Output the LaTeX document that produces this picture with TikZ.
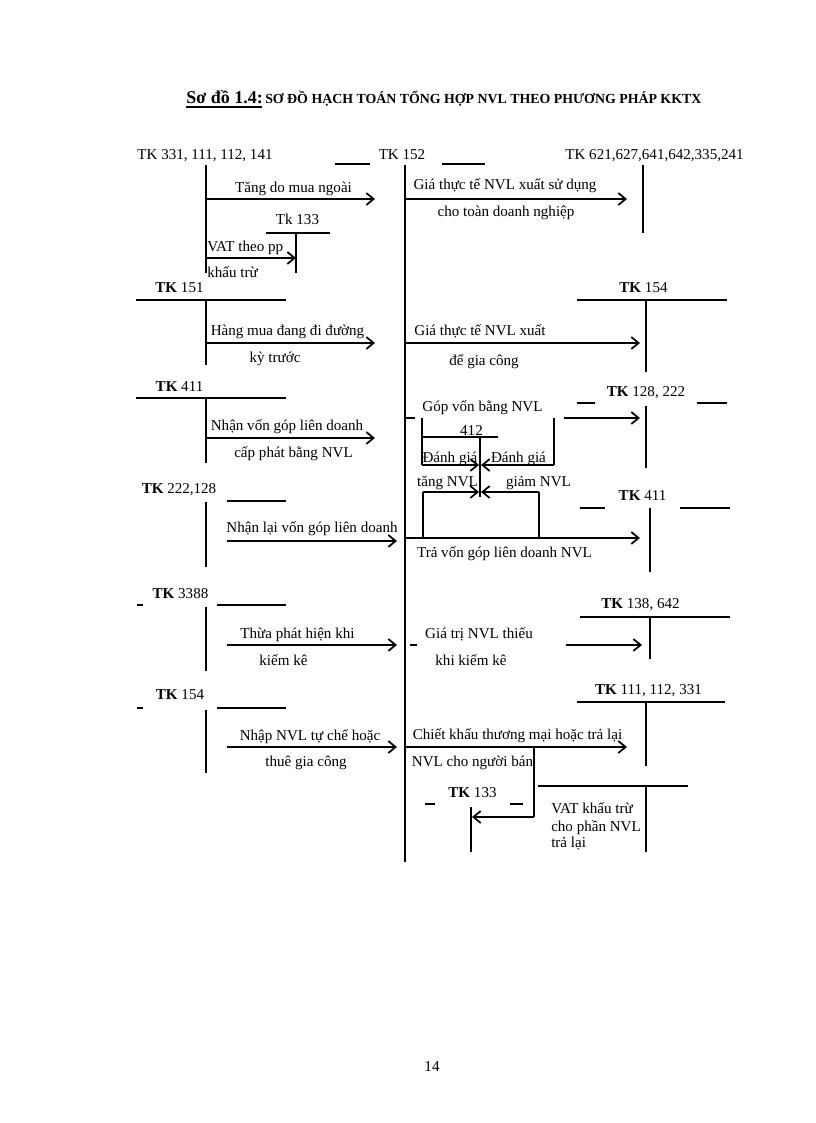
\documentclass[tikz,border=0pt]{standalone}
\usepackage{fontspec}
\setmainfont{Liberation Serif}
\usetikzlibrary{arrows.meta}
\begin{document}
\begin{tikzpicture}[x=0.75pt,y=-0.75pt,
  txt/.style={anchor=base,inner sep=0pt,font=\fontsize{11.3}{13.5}\selectfont},
  ltxt/.style={txt,anchor=base west},
  hl/.style={line width=0.8pt},
  vl/.style={line width=1.4pt},
  arr/.style={line width=1.1pt,-{Straight Barb[length=5.5pt,width=9pt,line width=1.3pt]}},
]
\useasboundingbox (0,0) rectangle (816,1123);
\fill[white] (0,0) rectangle (816,1123);

% title
\node[anchor=base west,inner sep=0pt,font=\fontsize{13.5}{16}\selectfont\bfseries] (t1) at (186,104) {Sơ đồ 1.4:};
\draw[line width=1.1pt] (186,107) -- (262,107);
\node[anchor=base west,inner sep=0pt,font=\fontsize{10.4}{12}\selectfont\bfseries] (t2) at (265,104) {SƠ ĐỒ HẠCH TOÁN TỔNG HỢP NVL THEO PHƯƠNG PHÁP KKTX};

% account headers
\node[txt] (h331) at (205,160) {TK 331, 111, 112, 141};
\node[txt] (h152) at (402,160) {TK 152};
\node[txt] (h621) at (654.5,160) {TK 621,627,641,642,335,241};
\draw[hl] (335,164) -- (370,164);
\draw[hl] (442,164) -- (485,164);

% verticals
\draw[vl] (206,165) -- (206,273);
\draw[vl] (405,165) -- (405,862);
\draw[vl] (643,165) -- (643,233);

% row 1
\draw[arr] (206,199) -- (375,199);
\draw[line width=2pt] (206,199) -- (226,199);
\node[txt] (l1) at (293.5,193) {Tăng do mua ngoài};
\node[txt] (h133a) at (297.5,224) {Tk 133};
\draw[hl] (266,233) -- (330,233);
\draw[vl] (296,233) -- (296,273);
\draw[arr] (206,258) -- (296,258);
\node[ltxt] (l2) at (207,251) {VAT theo pp};
\node[ltxt] (l3) at (207,277) {khấu trừ};
\draw[arr] (405,199) -- (627,199);
\node[txt] (r1a) at (505,190) {Giá thực tế NVL xuất sử dụng};
\node[txt] (r1b) at (506,217) {cho toàn doanh nghiệp};

% row 2
\node[txt] (h151) at (179.5,292) {\textbf{TK} 151};
\draw[hl] (136,300) -- (286,300);
\draw[vl] (206,300) -- (206,365);
\draw[arr] (206,343) -- (375,343);
\node[txt] (l4) at (287.5,335) {Hàng mua đang đi đường};
\node[txt] (l5) at (275,362) {kỳ trước};
\node[txt] (h154r) at (643.5,292) {\textbf{TK} 154};
\draw[hl] (577,300) -- (727,300);
\draw[vl] (646,300) -- (646,372);
\draw[arr] (405,343) -- (640,343);
\node[txt] (r2a) at (480,335) {Giá thực tế NVL xuất};
\node[txt] (r2b) at (484,365) {để gia công};

% row 3
\node[txt] (h411l) at (179.5,391) {\textbf{TK} 411};
\draw[hl] (136,398) -- (286,398);
\draw[vl] (206,398) -- (206,463);
\draw[arr] (206,438) -- (375,438);
\node[txt] (l6) at (287,430) {Nhận vốn góp liên doanh};
\node[txt] (l7) at (293.5,457) {cấp phát bằng NVL};

\node[txt] (h128) at (646,396) {\textbf{TK} 128, 222};
\draw[hl] (577,403) -- (595,403);
\draw[hl] (697,403) -- (727,403);
\draw[vl] (646,406) -- (646,468);
\draw[hl] (405,418) -- (415,418);
\node[txt] (r3a) at (482.5,411) {Góp vốn bằng NVL};
\draw[arr] (564,418) -- (640,418);
\node[txt] (n412) at (471.5,435) {412};
\draw[hl] (422,437) -- (498,437);
\draw[hl] (480,437) -- (480,497);
\draw[hl] (422,418) -- (422,465);
\draw[hl] (554,418) -- (554,465);
\draw[arr] (422,465) -- (479,465);
\draw[arr] (554,465) -- (481,465);
\node[txt] (dg1) at (450,462) {Đánh giá};
\node[txt] (dg2) at (518.5,462) {Đánh giá};
\node[txt] (tn) at (447.5,486) {tăng NVL};
\node[txt] (gn) at (538.5,486) {giảm NVL};
\draw[hl] (423,538) -- (423,492);
\draw[arr] (423,492) -- (479,492);
\draw[hl] (539,538) -- (539,492);
\draw[arr] (539,492) -- (481,492);

% row 4
\node[txt] (h222) at (179,493) {\textbf{TK} 222,128};
\draw[hl] (227,501) -- (286,501);
\draw[vl] (206,502) -- (206,567);
\draw[arr] (227,541) -- (397,541);
\node[txt] (l8) at (312,532) {Nhận lại vốn góp liên doanh};
\node[txt] (h411r) at (642.5,500) {\textbf{TK} 411};
\draw[hl] (580,508) -- (605,508);
\draw[hl] (680,508) -- (730,508);
\draw[vl] (650,508) -- (650,572);
\draw[arr] (405,538) -- (640,538);
\node[txt] (r4) at (504.5,557) {Trả vốn góp liên doanh NVL};

% row 5
\node[txt] (h3388) at (180.5,598) {\textbf{TK} 3388};
\draw[hl] (137,605) -- (143,605);
\draw[hl] (217,605) -- (286,605);
\draw[vl] (206,607) -- (206,671);
\draw[arr] (227,645) -- (397,645);
\node[txt] (l9) at (297.5,638) {Thừa phát hiện khi};
\node[txt] (l10) at (283.5,665) {kiểm kê};
\node[txt] (h138) at (640.5,608) {\textbf{TK} 138, 642};
\draw[hl] (580,617) -- (730,617);
\draw[vl] (650,617) -- (650,659);
\draw[hl] (410,645) -- (417,645);
\node[txt] (r5a) at (479,638) {Giá trị NVL thiếu};
\node[txt] (r5b) at (471,665) {khi kiểm kê};
\draw[arr] (566,645) -- (642,645);

% row 6
\node[txt] (h154l) at (180,699) {\textbf{TK} 154};
\draw[hl] (137,708) -- (143,708);
\draw[hl] (217,708) -- (286,708);
\draw[vl] (206,710) -- (206,773);
\draw[arr] (227,747) -- (397,747);
\node[txt] (l11) at (310,740) {Nhập NVL tự chế hoặc};
\node[txt] (l12) at (306,766) {thuê gia công};
\node[txt] (h111) at (648.5,694) {\textbf{TK} 111, 112, 331};
\draw[hl] (577,702) -- (725,702);
\draw[vl] (646,702) -- (646,766);
\draw[arr] (405,747) -- (627,747);
\node[txt] (r6a) at (517.5,739) {Chiết khấu thương mại hoặc trả lại};
\node[txt] (r6b) at (472.5,766) {NVL cho người bán};
\draw[hl] (534,747) -- (534,817);
\draw[arr] (534,817) -- (472,817);
\node[txt] (h133b) at (472.5,797) {\textbf{TK} 133};
\draw[hl] (425,804) -- (435,804);
\draw[hl] (510,804) -- (523,804);
\draw[vl] (471,807) -- (471,852);
\draw[hl] (538,786) -- (688,786);
\draw[vl] (646,786) -- (646,852);
\node[ltxt] (v1) at (551,813) {VAT khấu trừ};
\node[ltxt] (v2) at (551,831) {cho phần NVL};
\node[ltxt] (v3) at (551,847) {trả lại};

\node[txt] (pg) at (432,1071) {14};
\end{tikzpicture}
\end{document}
